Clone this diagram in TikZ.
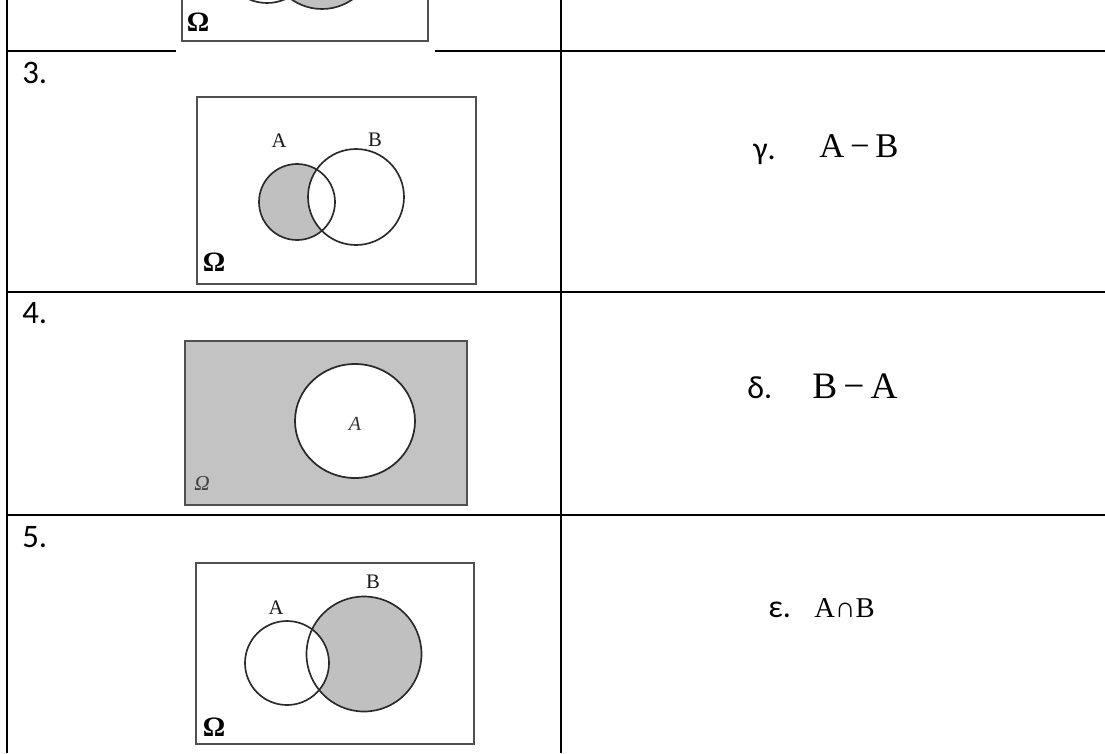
\documentclass[tikz,border=0pt]{standalone}
\usepackage{fontspec}
\setmainfont{Liberation Serif}
\newfontfamily\calfont{Carlito}
\definecolor{vgray}{HTML}{C0C0C0}
\definecolor{bggray}{HTML}{C3C3C3}
\definecolor{rimgray}{HTML}{505050}
\definecolor{ringdark}{HTML}{2A2A2A}
\begin{document}
\begin{tikzpicture}[x=0.75pt,y=-0.75pt,
  grid/.style={line width=1.7pt,black},
  frame/.style={line width=1.4pt,draw=rimgray},
  ring/.style={line width=1.25pt,draw=ringdark},
  rowno/.style={anchor=base west,inner sep=0pt,font=\calfont\fontsize{24.6}{28}\selectfont},
  greek/.style={anchor=base west,inner sep=0pt,font=\calfont\fontsize{24}{28}\selectfont},
  expr/.style={anchor=base west,inner sep=0pt},
  setlbl/.style={inner sep=0pt,font=\fontsize{15.5}{17}\selectfont,text=black!90},
  omega/.style={inner sep=0pt,font=\bfseries\fontsize{21}{22}\selectfont}]
\useasboundingbox (0,0) rectangle (1105,753);
\clip (0,0) rectangle (1105,753);
\fill[white] (0,0) rectangle (1105,753);

% table lines
\draw[grid] (7,0) -- (7,753);
\draw[grid] (561,0) -- (561,753);
\draw[grid] (7,51) -- (176,51);
\draw[grid] (435,51) -- (1105,51);
\draw[grid] (7,292) -- (1105,292);
\draw[grid] (7,515) -- (1105,515);

% row 2 (partial)
\fill[white] (176,-5) rectangle (435,53);
\fill[vgray] (322,-44) circle[radius=53];
\draw[ring] (267,-42) circle[radius=45];
\draw[ring] (322,-44) circle[radius=53];
\draw[frame] (182,-10) rectangle (428,41);
\node[omega] (om2) at (198,22) {Ω};

% row 3
\node[rowno] (n3) at (22,83) {3.};
\draw[frame] (197,97) rectangle (476,284);
\fill[vgray] (297,202) circle[radius=38];
\begin{scope}
  \clip (297,202) circle[radius=38];
  \fill[white] (356,197) circle[radius=48];
\end{scope}
\draw[ring] (297,202) circle[radius=38];
\draw[ring] (356,197) circle[radius=48];
\node[setlbl] (a3) at (279,141) {A};
\node[setlbl] (b3) at (375,140) {B};
\node[omega] (om3) at (214,262) {Ω};
\node[greek] (g3) at (753,159) {γ.};
\node[expr,font=\fontsize{26}{30}\selectfont] (e3) at (819,157) {A\,−\,B};

% row 4
\node[rowno] (n4) at (22,323) {4.};
\fill[bggray] (185,341) rectangle (467,505);
\draw[frame] (185,341) rectangle (467,505);
\fill[white] (355,421) ellipse[x radius=60,y radius=57];
\draw[ring,line width=1.3pt] (355,421) ellipse[x radius=60,y radius=57];
\node[inner sep=0pt,font=\itshape\fontsize{15}{16}\selectfont,text=black!80] (a4) at (355,424) {A};
\node[inner sep=0pt,font=\itshape\fontsize{16}{17}\selectfont,text=black!75] (om4) at (202,483) {Ω};
\node[greek] (g4) at (747,398) {δ.};
\node[expr,font=\fontsize{28}{32}\selectfont] (e4) at (812,398) {B\,−\,A};

% row 5
\node[rowno] (n5) at (22,547) {5.};
\draw[frame] (196,563) rectangle (474,744);
\fill[vgray] (364,654) circle[radius=57.5];
\begin{scope}
  \clip (364,654) circle[radius=57.5];
  \fill[white] (287,663) circle[radius=42];
\end{scope}
\draw[ring] (287,663) circle[radius=42];
\draw[ring] (364,654) circle[radius=57.5];
\node[setlbl] (a5) at (276,608) {A};
\node[setlbl] (b5) at (373,582) {B};
\node[omega] (om5) at (214,727) {Ω};
\node[greek] (g5) at (768,617) {ε.};
\node[expr,font=\fontsize{21.5}{25}\selectfont] (e5) at (814,617) {A∩B};
\end{tikzpicture}
\end{document}
